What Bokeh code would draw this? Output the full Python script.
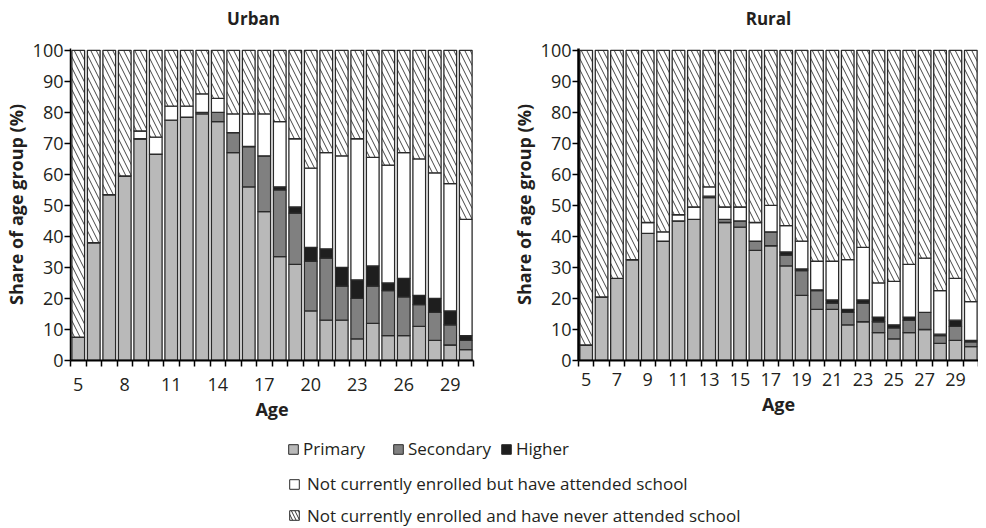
import numpy as np
from bokeh.plotting import figure
from bokeh.layouts import column, row
from bokeh.models import ColumnDataSource, FixedTicker, Range1d, Legend, LegendItem
from bokeh.core.properties import value
from bokeh.embed import file_html
from bokeh.resources import INLINE

ages = list(range(5, 31))

urban_primary = [7.5, 38, 53.5, 59.5, 71.5, 66.5, 77.5, 78.5, 79.5, 77, 67, 56, 48,
                 33.5, 31, 16, 13, 13, 7, 12, 8, 8, 11, 6.5, 5, 3.5]
urban_secondary = [0, 0, 0, 0, 0, 0, 0, 0, 0.5, 3, 6.5, 13, 18,
                   21.5, 16.5, 16, 20, 11, 13, 12, 14.5, 12.5, 7, 9, 6.5, 3]
urban_higher = [0, 0, 0, 0, 0, 0, 0, 0, 0, 0, 0, 0, 0,
                1, 2, 4.5, 3, 6, 6, 6.5, 2.5, 6, 3, 4.5, 4.5, 1.5]
urban_attended = [0, 0, 0, 0, 2.5, 5.5, 4.5, 3.5, 6, 4.5, 6, 10.5, 13.5,
                  21, 22, 25.5, 31, 36, 45.5, 35, 38, 40.5, 44, 40.5, 41, 37.5]

rural_primary = [5, 20.5, 26.5, 32.5, 41, 38.5, 45, 45.5, 52.5, 44.5, 43, 35.5, 37,
                 30.5, 21, 16.5, 16.5, 11.5, 12.5, 9, 7, 9, 10, 5.5, 6.5, 4.5]
rural_secondary = [0, 0, 0, 0, 0, 0, 0, 0, 0.5, 1, 2, 3, 4.5,
                   3.5, 8, 6, 2, 4, 6, 3.5, 3.5, 4, 5.5, 2.5, 4.5, 1.5]
rural_higher = [0, 0, 0, 0, 0, 0, 0, 0, 0, 0, 0, 0, 0,
                1, 0.5, 0.3, 1, 1, 1, 1.5, 1, 1, 0, 0.5, 2, 0.5]
rural_attended = [0, 0, 0, 0, 3.5, 3, 2, 4, 3, 4, 4.5, 6, 8.5,
                  8.5, 9, 9.2, 12.5, 16, 17, 11, 14, 17, 17.5, 14, 13.5, 12.5]

titles = ["Urban", "Rural"]
urban_tick_labels = [5, 8, 11, 14, 17, 20, 23, 26, 29]
rural_tick_labels = [5, 7, 9, 11, 13, 15, 17, 19, 21, 23, 25, 27, 29]
y_ticks = list(range(0, 101, 10))

series = ["primary", "secondary", "higher", "attended", "never"]
labels = ["Primary", "Secondary", "Higher",
          "Not currently enrolled but have attended school",
          "Not currently enrolled and have never attended school"]
colors = ["#b9b9b9", "#808080", "#1e1e1e", "#ffffff", "#ffffff"]
hatches = [" ", " ", " ", " ", "\\"]

FONT = "Open Sans"
TXT = "#231f20"
EDGE = "#2a2a2a"


def make_chart(prim, sec, hig, att, tick_labels, w, h, b_left, b_right,
               b_bottom, axis_w, lab_so, axlab_so):
    never = [100 - (a + b + c + d) for a, b, c, d in zip(prim, sec, hig, att)]
    src = ColumnDataSource(dict(age=ages, primary=prim, secondary=sec, higher=hig,
                                attended=att, never=never))
    p = figure(width=w, height=h, output_backend="svg",
               toolbar_location=None, x_range=Range1d(4.5, 30.5),
               y_range=Range1d(0, 100.6), min_border_left=b_left,
               min_border_right=b_right, min_border_top=18, min_border_bottom=b_bottom)
    p.vbar_stack(series, x="age", width=0.82, source=src, fill_color=colors,
                 line_color=EDGE, line_width=1.3, hatch_pattern=hatches,
                 hatch_color="#444444", hatch_scale=11, hatch_weight=1.0)
    p.outline_line_color = None
    p.grid.grid_line_color = None

    xa = p.xaxis[0]
    xa.ticker = FixedTicker(ticks=tick_labels, minor_ticks=[a - 0.5 for a in ages] + [30.5])
    xa.major_tick_line_color = None
    xa.major_tick_out = 6
    xa.major_tick_in = 0
    xa.minor_tick_out = 6
    xa.minor_tick_in = 0
    xa.minor_tick_line_color = "black"
    xa.minor_tick_line_width = 1.5
    xa.axis_line_color = "black"
    xa.axis_line_width = 2
    xa.major_label_standoff = lab_so
    xa.axis_label = "Age"
    xa.axis_label_standoff = axlab_so

    ya = p.yaxis[0]
    ya.ticker = FixedTicker(ticks=y_ticks)
    ya.major_tick_out = 6
    ya.major_tick_in = 0
    ya.major_tick_line_color = "black"
    ya.major_tick_line_width = 1.5
    ya.minor_tick_line_color = None
    ya.axis_line_color = "black"
    ya.axis_line_width = axis_w
    ya.major_label_standoff = 1
    ya.axis_label = "Share of age group (%)"
    ya.axis_label_standoff = 2

    for ax in (xa, ya):
        ax.major_label_text_font = FONT
        ax.major_label_text_font_size = "18px"
        ax.major_label_text_color = TXT
        ax.axis_label_text_font = FONT
        ax.axis_label_text_font_style = "bold"
        ax.axis_label_text_font_size = "18px"
        ax.axis_label_text_color = TXT
    return p


# title strip (panel titles)
tf = figure(width=978, height=30, output_backend="svg", toolbar_location=None,
            x_range=Range1d(0, 978), y_range=Range1d(0, 30), x_axis_type=None,
            y_axis_type=None, min_border=0)
tf.outline_line_color = None
tf.grid.grid_line_color = None
tf.text(x=[253, 768], y=[12, 12], text=titles, text_align="center",
        text_baseline="middle", text_font=value(FONT), text_font_style="bold",
        text_font_size="17px", text_color=TXT)

urban = make_chart(urban_primary, urban_secondary, urban_higher, urban_attended,
                   urban_tick_labels, 496, 407, 70, 23, 77, 1.5, 11, 3)
rural = make_chart(rural_primary, rural_secondary, rural_higher, rural_attended,
                   rural_tick_labels, 482, 407, 82, 0, 70, 2.5, 6, 3)

# legend panel
lf = figure(width=978, height=91, output_backend="svg", toolbar_location=None,
            x_range=Range1d(0, 978), y_range=Range1d(0, 91), x_axis_type=None,
            y_axis_type=None, min_border=0)
lf.outline_line_color = None
lf.grid.grid_line_color = None

nan = np.array([np.nan])
glyphs = []
for c, h in zip(colors, hatches):
    r = lf.vbar(x=nan, top=nan, width=1, fill_color=c, line_color=EDGE, line_width=1,
                hatch_pattern=h, hatch_color="#333333", hatch_scale=7, hatch_weight=1.0)
    glyphs.append(r)

positions = [(287, 68, 4), (392, 68, 4), (500, 68, 4), (288, 33, 7), (288, 1.5, 7)]
for lab, g, (lx, ly, so) in zip(labels, glyphs, positions):
    leg = Legend(items=[LegendItem(label=lab, renderers=[g])], location=(lx, ly),
                 orientation="horizontal", padding=0, margin=0, border_line_color=None,
                 background_fill_alpha=0, glyph_width=12, glyph_height=12,
                 label_standoff=so, label_height=20, label_text_font=FONT,
                 label_text_font_size="17px", label_text_color=TXT)
    lf.add_layout(leg)

layout = column(tf, row(urban, rural), lf)
open("out.html", "w").write(file_html(layout, INLINE))
